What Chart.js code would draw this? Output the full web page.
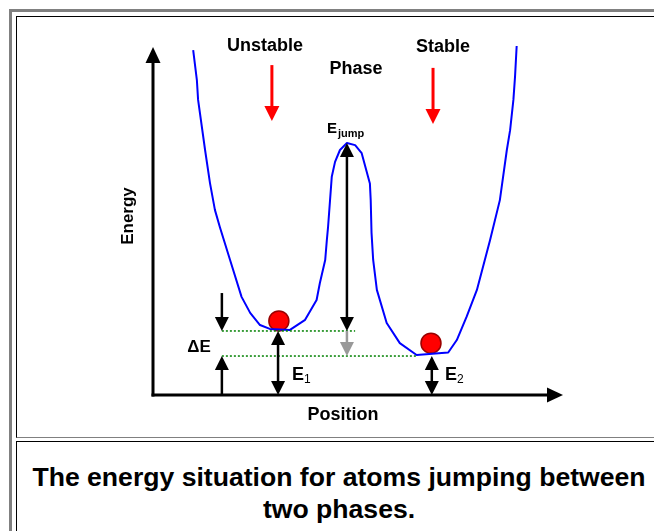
<!DOCTYPE html>
<html><head><meta charset="utf-8">
<script src="https://cdn.jsdelivr.net/npm/chart.js@4"></script>
<style>
html,body{margin:0;padding:0;background:#fff;width:654px;height:531px;overflow:hidden;font-family:"Liberation Sans",Arial,sans-serif;}
#outer{position:absolute;left:9px;top:9px;width:760px;height:600px;border-top:3px solid #808080;border-left:3px solid #808080;}
#cell1{position:absolute;left:16px;top:16px;width:760px;height:420px;border-top:1px solid #000;border-left:1px solid #000;border-bottom:1px solid #808080;}
#cell2{position:absolute;left:16px;top:441px;width:760px;height:200px;border-top:1px solid #000;border-left:1px solid #000;}
#caption{position:absolute;left:17px;top:461px;width:644px;text-align:center;font:bold 26.6px/32px "Liberation Sans",Arial,sans-serif;color:#000;}
#c{position:absolute;left:0;top:0;}
</style></head>
<body>
<div id="outer"></div><div id="cell1"></div><div id="cell2"></div>
<div id="caption"></div>
<canvas id="c" width="654" height="531"></canvas>
<script>
// ---- data (Position 0-100, Energy 0-100, arbitrary units) ----
const positions = [9.8,10.7,11.0,12.7,13.9,15.1,16.3,18.8,21.6,23.7,26.1,28.5,33.4,37.1,39.9,40.7,42.0,42.4,42.7,43.6,44.4,45.6,47.3,49.3,50.9,52.9,53.1,53.3,53.7,54.6,57.0,60.2,64.3,72.0,74.1,76.5,79.0,82.2,84.6,86.3,87.1,87.9,88.3,88.7];
const energies  = [99.1,90.5,84.8,70.4,60.9,53.2,48.3,38.8,28.2,23.6,20.1,19.0,18.7,21.6,27.3,32.2,38.8,44.5,48.3,62.7,67.0,70.4,72.4,71.8,69.5,60.8,56.0,46.6,38.8,30.2,20.7,14.9,11.5,12.2,15.8,22.5,30.2,44.5,56.0,70.4,76.1,84.8,91.5,100.3];
const ballPositions = [30.7, 67.8];
const ballEnergies  = [21.3, 14.9];
const levelNames  = ['E1','E2','Ejump'];
const levelValues = [18.4, 11.2, 72.4];
const phaseLabels = ['Unstable','Phase','Stable'];
const axisTitles  = ['Position','Energy'];
const captionLines = ['The energy situation for atoms jumping between','two phases.'];

document.getElementById('caption').innerHTML = captionLines.join('<br>');

const [E1, E2, EJ] = levelValues;

function arrow(ctx,x1,y1,x2,y2,color,lw,hl,hw,heads){
  const a=Math.atan2(y2-y1,x2-x1), ux=Math.cos(a), uy=Math.sin(a);
  let sx=x1,sy=y1,ex=x2,ey=y2;
  if(heads==='start'||heads==='both'){sx+=ux*hl*0.8; sy+=uy*hl*0.8;}
  if(heads==='end'||heads==='both'){ex-=ux*hl*0.8; ey-=uy*hl*0.8;}
  ctx.save(); ctx.strokeStyle=color; ctx.fillStyle=color; ctx.lineWidth=lw; ctx.lineCap='butt';
  ctx.beginPath(); ctx.moveTo(sx,sy); ctx.lineTo(ex,ey); ctx.stroke();
  const head=(tx,ty,dx,dy)=>{ctx.beginPath(); ctx.moveTo(tx,ty);
    ctx.lineTo(tx-dx*hl-dy*hw/2, ty-dy*hl+dx*hw/2);
    ctx.lineTo(tx-dx*hl+dy*hw/2, ty-dy*hl-dx*hw/2); ctx.closePath(); ctx.fill();};
  if(heads==='end'||heads==='both') head(x2,y2,ux,uy);
  if(heads==='start'||heads==='both') head(x1,y1,-ux,-uy);
  ctx.restore();
}

const diagram = {
  id:'diagram',
  beforeDatasetsDraw(chart){
    const ctx=chart.ctx, X=v=>chart.scales.x.getPixelForValue(v), Y=v=>chart.scales.y.getPixelForValue(v);
    // axes
    arrow(ctx,X(0),Y(0)+1.5,X(0),Y(100),'#000',3,16,15,'end');
    arrow(ctx,X(0)-1.5,Y(0),X(100),Y(0),'#000',3,16,15,'end');
  },
  afterDatasetsDraw(chart){
    const ctx=chart.ctx, X=v=>chart.scales.x.getPixelForValue(v), Y=v=>chart.scales.y.getPixelForValue(v);
    // energy arrows
    arrow(ctx,X(16.8),Y(29.3),X(16.8),Y(E1),'#000',2.5,14,14,'end');
    arrow(ctx,X(16.8),Y(0),X(16.8),Y(E2),'#000',2.5,14,14,'end');
    arrow(ctx,X(30.5),Y(E1),X(30.5),Y(0),'#000',2.5,14,14,'both');
    arrow(ctx,X(68.0),Y(E2),X(68.0),Y(0),'#000',2.5,14,14,'both');
    arrow(ctx,X(47.3),Y(E1),X(47.3),Y(E2),'#999999',2.5,14,14,'end');
    arrow(ctx,X(47.3),Y(E1),X(47.3),Y(EJ),'#000',2.5,14,14,'both');
    // red phase arrows
    arrow(ctx,X(29.0),Y(94.8),X(29.0),Y(78.7),'#ff0000',3,15,15,'end');
    arrow(ctx,X(68.3),Y(94.0),X(68.3),Y(77.9),'#ff0000',3,15,15,'end');
    // texts
    ctx.save(); ctx.fillStyle='#000'; ctx.textBaseline='alphabetic';
    const F='"Liberation Sans",Arial,sans-serif';
    ctx.font='bold 18px '+F; ctx.textAlign='center';
    ctx.fillText(phaseLabels[0],265,51);
    ctx.fillText(phaseLabels[1],356,74);
    ctx.fillText(phaseLabels[2],443,52);
    ctx.fillText(axisTitles[0],343,420);
    ctx.save(); ctx.translate(133,216); ctx.rotate(-Math.PI/2);
    ctx.font='bold 17px '+F; ctx.fillText(axisTitles[1],0,0); ctx.restore();
    ctx.font='bold 17px '+F; ctx.fillText('\u0394E',199,352);
    ctx.textAlign='left';
    ctx.font='bold 18px '+F; ctx.fillText('E',292,380);
    ctx.font='12px '+F; ctx.fillText(levelNames[0].slice(1),304,383);
    ctx.font='bold 18px '+F; ctx.fillText('E',445,380);
    ctx.font='12px '+F; ctx.fillText(levelNames[1].slice(1),457,383);
    ctx.font='bold 15px '+F; ctx.fillText('E',327,133);
    ctx.font='bold 11px '+F; ctx.fillText(levelNames[2].slice(1).toLowerCase(),338,137);
    ctx.restore();
  }
};

new Chart(document.getElementById('c'),{
  type:'scatter',
  data:{datasets:[
    {data:[{x:16.8,y:E1},{x:49.3,y:E1}],showLine:true,borderColor:'#008000',borderDash:[2,2],borderWidth:1.5,pointRadius:0},
    {data:[{x:16.8,y:E2},{x:64.4,y:E2}],showLine:true,borderColor:'#008000',borderDash:[2,2],borderWidth:1.5,pointRadius:0},
    {data:positions.map((x,i)=>({x,y:energies[i]})),showLine:true,borderColor:'#0000ff',borderWidth:2,pointRadius:0,tension:0,clip:false,borderJoinStyle:'round'},
    {data:ballPositions.map((x,i)=>({x,y:ballEnergies[i]})),showLine:false,pointRadius:10,backgroundColor:'#ff0000',borderColor:'#990000',borderWidth:1.5}
  ]},
  options:{
    responsive:false,animation:false,events:[],devicePixelRatio:1,
    layout:{padding:{left:153,top:47,right:91,bottom:136}},
    scales:{x:{type:'linear',min:0,max:100,display:false},y:{type:'linear',min:0,max:100,display:false}},
    plugins:{legend:{display:false},tooltip:{enabled:false}}
  },
  plugins:[diagram]
});
</script>
</body></html>
